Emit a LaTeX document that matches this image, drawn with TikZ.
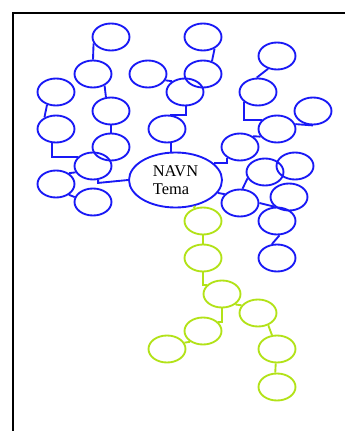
\documentclass[tikz,border=0pt]{standalone}
\usepackage{fontspec}
\setmainfont{Liberation Serif}
\usetikzlibrary{shapes.geometric}
\definecolor{mapblue}{RGB}{25,25,245}
\definecolor{mapgreen}{RGB}{178,226,24}

\begin{document}
\begin{tikzpicture}[x=0.75pt, y=-0.75pt, line width=1.4pt,
  bubble/.style={ellipse, minimum width=27.75pt, minimum height=20.25pt, inner sep=0pt},
  bl/.style={bubble, draw=mapblue},
  gr/.style={bubble, draw=mapgreen},
  bline/.style={draw=mapblue},
  gline/.style={draw=mapgreen}]
\useasboundingbox (0,0) rectangle (345,431);
\clip (0,0) rectangle (345,431);
\draw[line width=1.5pt] (13,440) |- (350,13);
% centre
\node (navn) [ellipse, draw=mapblue, minimum width=69.75pt, minimum height=41.25pt, inner sep=0pt,
  align=left, font={\fontsize{12.3pt}{13.5pt}\selectfont}] at (175.5,180) {NAVN\\Tema};
% blue branches
\node (b1) [bl] at (111,37) {};
\node (b2) [bl] at (93,74) {};
\node (b3) [bl] at (56,92) {};
\node (b4) [bl] at (111,111) {};
\node (b5) [bl] at (56,129) {};
\node (b6) [bl] at (111,147) {};
\node (b7) [bl] at (93,166) {};
\node (b8) [bl] at (56,184) {};
\node (b9) [bl] at (93,202) {};
\node (b10) [bl] at (148,74) {};
\node (b11) [bl] at (167,129) {};
\node (c1) [bl] at (203,37) {};
\node (c2) [bl] at (203,74) {};
\node (c3) [bl] at (185,92) {};
\node (c4) [bl] at (277,56) {};
\node (c5) [bl] at (258,92) {};
\node (c6) [bl] at (313,111) {};
\node (c7) [bl] at (277,129) {};
\node (c8) [bl] at (240,147) {};
\node (c9) [bl] at (265,172) {};
\node (c10) [bl] at (295,166) {};
\node (c11) [bl] at (240,203) {};
\node (c12) [bl] at (289,197) {};
\node (c13) [bl] at (277,221) {};
\node (c14) [bl] at (277,258) {};
% green branch
\node (g1) [gr] at (203,221) {};
\node (g2) [gr] at (203,258) {};
\node (g3) [gr] at (222,294) {};
\node (g4) [gr] at (258,313) {};
\node (g5) [gr] at (203,331) {};
\node (g6) [gr] at (167,349) {};
\node (g7) [gr] at (277,349) {};
\node (g8) [gr] at (277,387) {};
% blue links
\draw[bline] (b1.200) -- (b2.north);
\draw[bline] (b2.-45) -- (b4.110);
\draw[bline] (b4.south) -- (b6.north);
\draw[bline] (b3.235) -- (b5.135);
\draw[bline] (b5.-105) |- (b7.150);
\draw[bline] (b7.-70) -- ++(0,3) -- (navn.180);
\draw[bline] (b8.40) -- (b7.200);
\draw[bline] (b8.-40) -- (b9.165);
\draw[bline] (b10.-20) -- (c3.140);
\draw[bline] (b11.-75) -- (b11.-75 |- navn.north);
\draw[bline] (c3.-85) |- (b11.80);
\draw[bline] (c1.-45) -- (c2.55);
\draw[bline] (c4.235) -- (c5.95);
\draw[bline] (c5.215) |- (c7.150);
\draw[bline] (c6.south) -- (c7.15);
\draw[bline] (c7.205) -- (c8.40);
\draw[bline] (c8.220) |- (navn.24);
\draw[bline] (c9.200) -- (c11.80);
\draw[bline] (navn.-17) -- (c11.150);
\draw[bline] (c11.east) -- (c13.100);
\draw[bline] (c13.-80) -- (c14.110);
% green links
\draw[gline] (navn.-53) -- (g1.126);
\draw[gline] (g1.south) -- (g2.north);
\draw[gline] (g2.south) |- (g3.150);
\draw[gline] (g3.-38) -- (g4.155);
\draw[gline] (g3.south) |- (g5.30);
\draw[gline] (g5.220) -- (g6.20);
\draw[gline] (g4.-50) -- (g7.110);
\draw[gline] (g7.-95) -- (g8.97);
\end{tikzpicture}
\end{document}
